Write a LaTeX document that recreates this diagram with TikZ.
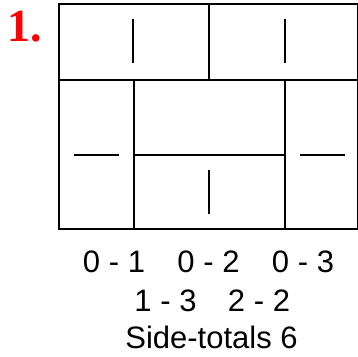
\documentclass[tikz,border=0pt]{standalone}
\usepackage{fontspec}
\setmainfont{Liberation Serif}
\setsansfont{Liberation Sans}
\usepackage{xcolor}

\begin{document}
\begin{tikzpicture}[x=1pt,y=1pt,line width=1.6pt,line cap=butt]
\useasboundingbox (0,0) rectangle (358,356);
% outline and dominoes
\draw (59,352) rectangle (357.5,127);
\draw (59,276) -- (357.5,276);
\draw (209,352) -- (209,276);
\draw (134,276) -- (134,127);
\draw (285,276) -- (285,127);
\draw (134,201) -- (285,201);
% pips
\draw (133,337) -- (133,293);
\draw (285,337) -- (285,293);
\draw (74,201) -- (119,201);
\draw (300,201) -- (345,201);
\draw (209,186) -- (209,142);
% labels
\node[anchor=base west,inner sep=0pt,text=red,font=\fontsize{46}{46}\selectfont\bfseries] (num) at (7,314) {1.};
\begin{scope}[every node/.style={anchor=base,inner sep=0pt,font=\sffamily\fontsize{31}{31}\selectfont}]
\node (p01) at (114,84) {0 - 1};
\node (p02) at (208.5,84) {0 - 2};
\node (p03) at (303,84) {0 - 3};
\node (p13) at (165.5,45) {1 - 3};
\node (p22) at (259,45) {2 - 2};
\node (tot) at (211.5,8) {Side-totals 6};
\end{scope}
\end{tikzpicture}
\end{document}
